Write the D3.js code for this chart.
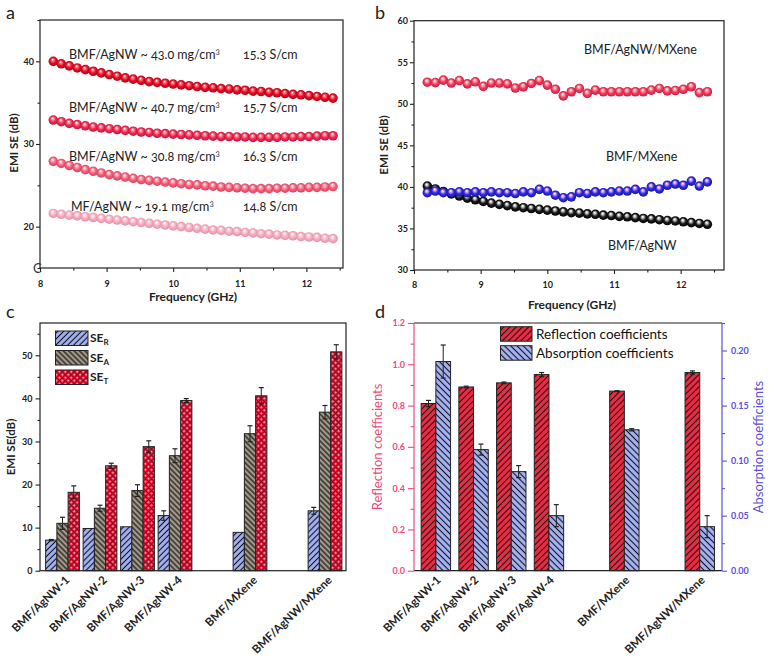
<!DOCTYPE html>
<html><head><meta charset="utf-8">
<script src="https://cdn.jsdelivr.net/npm/d3@7"></script>
<style>
body{margin:0;background:#fff}
svg{display:block}
text{font-family:Lato,"Open Sans","DejaVu Sans",sans-serif;}
.lbl{font-variant-numeric:oldstyle-nums;}
</style>
</head><body>
<svg id="chart" width="769" height="659"></svg>
<script>
// ---------------- DATA ----------------
const freq = [8.2, 8.32, 8.44, 8.56, 8.68, 8.8, 8.92, 9.04, 9.16, 9.28, 9.4, 9.52, 9.64, 9.76, 9.88, 10.0, 10.12, 10.24,
  10.36, 10.48, 10.6, 10.72, 10.84, 10.96, 11.08, 11.2, 11.32, 11.44, 11.56, 11.68, 11.8, 11.92, 12.04, 12.16, 12.28, 12.4];

// panel a
const aSE430 = [40.0, 39.7, 39.45, 39.2, 39.0, 38.8, 38.6, 38.4, 38.2, 38.0, 37.85, 37.7, 37.55, 37.45, 37.35, 37.25, 37.15, 37.05,
  36.95, 36.85, 36.8, 36.7, 36.65, 36.55, 36.5, 36.4, 36.35, 36.25, 36.2, 36.1, 36.0, 35.95, 35.85, 35.75, 35.65, 35.55];
const aSE407 = [32.9, 32.7, 32.5, 32.35, 32.2, 32.05, 31.95, 31.85, 31.75, 31.65, 31.55, 31.45, 31.4, 31.3, 31.25, 31.2, 31.15, 31.1,
  31.05, 31.0, 30.95, 30.9, 30.9, 30.85, 30.85, 30.8, 30.8, 30.8, 30.8, 30.85, 30.85, 30.9, 30.9, 30.95, 31.0, 31.0];
const aSE308 = [27.9, 27.65, 27.4, 27.15, 26.9, 26.7, 26.5, 26.3, 26.15, 26.0, 25.85, 25.7, 25.6, 25.5, 25.4, 25.3, 25.2, 25.1,
  25.05, 24.95, 24.9, 24.8, 24.75, 24.7, 24.65, 24.6, 24.6, 24.6, 24.65, 24.65, 24.7, 24.7, 24.75, 24.75, 24.8, 24.85];
const aSE191 = [21.6, 21.5, 21.4, 21.3, 21.2, 21.1, 21.0, 20.9, 20.8, 20.7, 20.6, 20.5, 20.4, 20.3, 20.2, 20.1, 20.0, 19.9,
  19.8, 19.7, 19.6, 19.55, 19.45, 19.4, 19.3, 19.25, 19.15, 19.1, 19.0, 18.95, 18.9, 18.8, 18.75, 18.7, 18.6, 18.55];
const aLabels = ["BMF/AgNW ~ 43.0 mg/cm", "BMF/AgNW ~ 40.7 mg/cm", "BMF/AgNW ~ 30.8 mg/cm", "MF/AgNW ~ 19.1 mg/cm"];
const aConduct = ["15.3 S/cm", "15.7 S/cm", "16.3 S/cm", "14.8 S/cm"];

// panel b
const bAgNWMXene = [52.6, 52.55, 52.85, 52.5, 52.8, 52.4, 52.65, 52.1, 52.5, 52.5, 52.4, 51.9, 52.05, 52.45, 52.8, 52.25, 51.75, 50.95,
  51.45, 51.85, 51.25, 51.65, 51.45, 51.45, 51.45, 51.45, 51.45, 51.45, 51.65, 51.85, 51.55, 51.6, 51.75, 52.05, 51.35, 51.45];
const bMXene = [39.3, 39.5, 39.3, 39.3, 39.4, 39.3, 39.4, 39.3, 39.4, 39.3, 39.3, 39.2, 39.4, 39.3, 39.7, 39.5, 39.0, 38.7,
  38.8, 39.3, 39.2, 39.4, 39.3, 39.4, 39.5, 39.5, 39.7, 39.4, 40.0, 39.75, 40.2, 40.35, 40.2, 40.7, 40.1, 40.6];
const bAgNW = [40.1, 39.75, 39.45, 39.15, 38.9, 38.65, 38.45, 38.25, 38.05, 37.9, 37.75, 37.6, 37.5, 37.4, 37.3, 37.2, 37.1, 37.0,
  36.9, 36.85, 36.75, 36.7, 36.6, 36.55, 36.45, 36.4, 36.3, 36.2, 36.15, 36.05, 35.95, 35.9, 35.8, 35.7, 35.6, 35.5];
const bLabels = ["BMF/AgNW/MXene", "BMF/MXene", "BMF/AgNW"];

// panels c, d
const categories = ["BMF/AgNW-1", "BMF/AgNW-2", "BMF/AgNW-3", "BMF/AgNW-4", "BMF/MXene", "BMF/AgNW/MXene"];
const slots = [1, 2, 3, 4, 6, 8];
const seR = [7.1, 9.8, 10.2, 12.8, 8.9, 13.9];
const seRErr = [0.15, 0, 0, 1.1, 0, 0.8];
const seA = [11.0, 14.5, 18.6, 26.7, 31.8, 36.8];
const seAErr = [1.4, 0.7, 1.35, 1.6, 1.85, 1.55];
const seT = [18.2, 24.35, 28.8, 39.5, 40.6, 50.8];
const seTErr = [1.5, 0.6, 1.35, 0.45, 1.9, 1.65];
const reflection = [0.81, 0.89, 0.91, 0.95, 0.87, 0.96];
const reflectionErr = [0.015, 0.004, 0.004, 0.01, 0.002, 0.008];
const absorption = [0.19, 0.11, 0.09, 0.05, 0.128, 0.04];
const absorptionErr = [0.015, 0.005, 0.0055, 0.01, 0.001, 0.01];

// ---------------- DRAW ----------------
const svg = d3.select('#chart');
const defs = svg.append('defs');
const INK = '#222';

function ballGrad(id, hl, base, dark) {
  const g = defs.append('radialGradient').attr('id', id)
    .attr('cx', '50%').attr('cy', '50%').attr('r', '55%').attr('fx', '42%').attr('fy', '30%');
  g.append('stop').attr('offset', '0%').attr('stop-color', '#ffffff');
  g.append('stop').attr('offset', '20%').attr('stop-color', hl);
  g.append('stop').attr('offset', '55%').attr('stop-color', base);
  g.append('stop').attr('offset', '100%').attr('stop-color', dark);
}
ballGrad('gA1', '#ff8090', '#e80a22', '#a00616');
ballGrad('gA2', '#ff9fb2', '#f02a50', '#b8123a');
ballGrad('gA3', '#ffbcc8', '#f2607a', '#d63c5c');
ballGrad('gA4', '#ffe0e8', '#f6abbd', '#e28ea4');
ballGrad('gBr', '#ffb4c4', '#f23a5c', '#c01a3a');
ballGrad('gBb', '#f0a8d8', '#2c2ce6', '#12129a');
ballGrad('gBk', '#cfcfcf', '#1a1a1a', '#000000');

function hatch(id, fill, angle, s, sw) {
  const p = defs.append('pattern').attr('id', id).attr('patternUnits', 'userSpaceOnUse')
    .attr('width', s).attr('height', s).attr('patternTransform', `rotate(${angle})`);
  p.append('rect').attr('width', s).attr('height', s).attr('fill', fill);
  p.append('line').attr('x1', s / 2).attr('y1', -1).attr('x2', s / 2).attr('y2', s + 1)
    .attr('stroke', '#111').attr('stroke-width', sw);
}
hatch('pR', '#a3b2f7', 45, 4.2, 1.1);
hatch('pA', '#a39a8a', -45, 3.8, 1.2);
hatch('pDR', '#f22a44', 45, 4.4, 1.1);
hatch('pDB', '#a6b3f5', -45, 4.4, 1.1);
(function () {
  const s = 4.2;
  const p = defs.append('pattern').attr('id', 'pT').attr('patternUnits', 'userSpaceOnUse')
    .attr('width', s).attr('height', s).attr('patternTransform', 'rotate(45)');
  p.append('rect').attr('width', s).attr('height', s).attr('fill', '#f01a3a');
  p.append('rect').attr('width', s).attr('height', 0.8).attr('fill', '#7a0a1c');
  p.append('rect').attr('width', 0.8).attr('height', s).attr('fill', '#7a0a1c');
  p.append('rect').attr('x', 1.7).attr('y', 1.7).attr('width', 1.4).attr('height', 1.4).attr('fill', '#ffb2c2');
})();

function styleAxis(g, color, fontSize) {
  g.select('.domain').remove();
  g.selectAll('.tick line').attr('stroke', color).attr('stroke-width', 1.1);
  g.selectAll('.tick text').attr('fill', color).attr('font-size', fontSize)
    .attr('font-weight', 'bold').attr('font-family', 'Lato, sans-serif');
}
function yAxis(g, scale, x, major, minor, fmt, side, color, majLen, minLen, pad) {
  const f = side === 'left' ? d3.axisLeft : d3.axisRight;
  const a = g.append('g').attr('transform', `translate(${x},0)`)
    .call(f(scale).tickValues(major).tickSize(majLen).tickPadding(pad).tickFormat(fmt));
  styleAxis(a, color, 9);
  const m = g.append('g').attr('transform', `translate(${x},0)`)
    .call(f(scale).tickValues(minor).tickSize(minLen).tickFormat(''));
  styleAxis(m, color, 9);
}
function xAxis(g, scale, y, major, minor, fmt, pad) {
  const a = g.append('g').attr('transform', `translate(0,${y})`)
    .call(d3.axisBottom(scale).tickValues(major).tickSize(4).tickPadding(pad).tickFormat(fmt));
  styleAxis(a, INK, 9);
  const m = g.append('g').attr('transform', `translate(0,${y})`)
    .call(d3.axisBottom(scale).tickValues(minor).tickSize(2.5).tickFormat(''));
  styleAxis(m, INK, 9);
}
function frame(x0, y0, x1, y1) {
  svg.append('rect').attr('x', x0).attr('y', y0).attr('width', x1 - x0).attr('height', y1 - y0)
    .attr('fill', 'none').attr('stroke', INK).attr('stroke-width', 1.2);
}
function letter(t, x, y) {
  svg.append('text').attr('x', x).attr('y', y).attr('font-size', 18).attr('fill', '#222').text(t);
}
function balls(g, xs, ys, vals, grad) {
  g.append('g').selectAll('circle').data(vals).join('circle')
    .attr('cx', (d, i) => xs(freq[i])).attr('cy', d => ys(d)).attr('r', 4.8)
    .attr('fill', `url(#${grad})`);
}

// ---------- Panel a ----------
{
  const x = d3.scaleLinear([8, 12.55], [40, 343]);
  const y = d3.scaleLinear([15, 45], [268, 20]);
  const g = svg.append('g');
  yAxis(g, y, 40, [20, 30, 40], [15, 25, 35, 45], d3.format('d'), 'left', INK, 4, 2.5, 2);
  xAxis(g, x, 268, [8, 9, 10, 11, 12], [8.5, 9.5, 10.5, 11.5, 12.5], d3.format('d'), 9);
  balls(g, x, y, aSE191, 'gA4');
  balls(g, x, y, aSE308, 'gA3');
  balls(g, x, y, aSE407, 'gA2');
  balls(g, x, y, aSE430, 'gA1');
  frame(40, 20, 343, 268);
  const ly = [59, 112, 161, 211];
  const lx = [69, 69, 69, 71];
  aLabels.forEach((t, i) => {
    const tx = svg.append('text').attr('class', 'lbl').attr('x', lx[i]).attr('y', ly[i])
      .attr('font-size', 12.5).attr('fill', '#222');
    tx.append('tspan').text(t);
    tx.append('tspan').attr('dy', -5).attr('font-size', 8).text('3');
    svg.append('text').attr('class', 'lbl').attr('x', 243).attr('y', ly[i])
      .attr('font-size', 12.5).attr('fill', '#222').text(aConduct[i]);
  });
  svg.append('text').attr('transform', 'translate(18,143) rotate(-90)').attr('text-anchor', 'middle')
    .attr('font-size', 11.5).attr('font-weight', 'bold').attr('fill', INK).text('EMI SE (dB)');
  svg.append('text').attr('x', 193).attr('y', 301).attr('text-anchor', 'middle')
    .attr('font-size', 12).attr('font-weight', 'bold').attr('fill', INK).text('Frequency (GHz)');
  svg.append('text').attr('x', 33).attr('y', 273).attr('font-size', 13).attr('fill', '#333').text('C');
  letter('a', 6, 19);
}

// ---------- Panel b ----------
{
  const x = d3.scaleLinear([8, 12.65], [414, 724]);
  const y = d3.scaleLinear([30, 60], [270, 20.7]);
  const g = svg.append('g');
  yAxis(g, y, 414, [30, 35, 40, 45, 50, 55, 60], [32.5, 37.5, 42.5, 47.5, 52.5, 57.5], d3.format('d'), 'left', INK, 4, 2.5, 2);
  xAxis(g, x, 270, [8, 9, 10, 11, 12], [8.5, 9.5, 10.5, 11.5, 12.5], d3.format('d'), 8);
  balls(g, x, y, bAgNW, 'gBk');
  balls(g, x, y, bMXene, 'gBb');
  balls(g, x, y, bAgNWMXene, 'gBr');
  frame(414, 20.7, 724, 270);
  const pos = [[584, 54], [606, 161], [608, 250]];
  bLabels.forEach((t, i) => {
    svg.append('text').attr('x', pos[i][0]).attr('y', pos[i][1]).attr('font-size', 12.5)
      .attr('fill', '#222').text(t);
  });
  svg.append('text').attr('transform', 'translate(388,145) rotate(-90)').attr('text-anchor', 'middle')
    .attr('font-size', 11.5).attr('font-weight', 'bold').attr('fill', INK).text('EMI SE (dB)');
  svg.append('text').attr('x', 572).attr('y', 309).attr('text-anchor', 'middle')
    .attr('font-size', 12).attr('font-weight', 'bold').attr('fill', INK).text('Frequency (GHz)');
  letter('b', 375, 19);
}

function errBar(g, cx, yTop, yBot, color) {
  g.append('line').attr('x1', cx).attr('x2', cx).attr('y1', yTop).attr('y2', yBot).attr('stroke', color).attr('stroke-width', 1);
  g.append('line').attr('x1', cx - 2.5).attr('x2', cx + 2.5).attr('y1', yTop).attr('y2', yTop).attr('stroke', color).attr('stroke-width', 1.2);
  g.append('line').attr('x1', cx - 2.5).attr('x2', cx + 2.5).attr('y1', yBot).attr('y2', yBot).attr('stroke', color).attr('stroke-width', 1.2);
}

// ---------- Panel c ----------
{
  const x = d3.scaleLinear([0.4, 8.56], [40, 346]);
  const y = d3.scaleLinear([0, 57.5], [570.7, 323]);
  const g = svg.append('g');
  yAxis(g, y, 40, [0, 10, 20, 30, 40, 50], [5, 15, 25, 35, 45, 55], d3.format('d'), 'left', INK, 4.5, 2.5, 3);
  const bw = 0.3;
  const series = [[seR, seRErr, 'pR', -1.5], [seA, seAErr, 'pA', -0.5], [seT, seTErr, 'pT', 0.5]];
  series.forEach(([vals, errs, pat, off]) => {
    g.append('g').selectAll('rect').data(vals).join('rect')
      .attr('x', (d, i) => x(slots[i] + off * bw))
      .attr('y', d => y(d))
      .attr('width', x(bw) - x(0))
      .attr('height', d => y(0) - y(d))
      .attr('fill', `url(#${pat})`).attr('stroke', INK).attr('stroke-width', 1);
    vals.forEach((v, i) => {
      if (errs[i] > 0) errBar(g, x(slots[i] + (off + 0.5) * bw), y(v + errs[i]), y(v - errs[i]), INK);
    });
  });
  frame(40, 323, 346, 570.7);
  categories.forEach((c, i) => {
    svg.append('text').attr('transform', `translate(${x(slots[i]) + 5},578) rotate(-44)`)
      .attr('text-anchor', 'end').attr('dy', '0.35em').attr('font-size', 11.5).attr('font-weight', 'bold')
      .attr('fill', INK).text(c);
  });
  // legend
  const leg = [['pR', 'R'], ['pA', 'A'], ['pT', 'T']];
  const ly0 = [331, 350.5, 370];
  leg.forEach(([pat, sub], i) => {
    svg.append('rect').attr('x', 55.5).attr('y', ly0[i]).attr('width', 32.5).attr('height', 14.5)
      .attr('fill', `url(#${pat})`).attr('stroke', INK).attr('stroke-width', 1);
    const t = svg.append('text').attr('x', 90).attr('y', ly0[i] + 11).attr('font-size', 12)
      .attr('font-weight', 'bold').attr('fill', INK);
    t.append('tspan').text('SE');
    t.append('tspan').attr('dy', 3).attr('font-size', 8).text(sub);
  });
  svg.append('text').attr('transform', 'translate(15,447) rotate(-90)').attr('text-anchor', 'middle')
    .attr('font-size', 11.5).attr('font-weight', 'bold').attr('fill', INK).text('EMI SE(dB)');
  letter('c', 6, 318);
}

// ---------- Panel d ----------
{
  const PINK = '#f04a7c', BLUE = '#5a4ee0';
  const x = d3.scaleLinear([0.42, 8.59], [414, 722]);
  const yL = d3.scaleLinear([0, 1.2], [570.7, 323]);
  const yR = d3.scaleLinear([0, 0.225], [570.7, 323]);
  const g = svg.append('g');
  yAxis(g, yL, 414, [0, 0.2, 0.4, 0.6, 0.8, 1.0, 1.2], [0.1, 0.3, 0.5, 0.7, 0.9, 1.1], d3.format('.1f'), 'left', PINK, 6, 3.5, 3);
  yAxis(g, yR, 722, [0, 0.05, 0.1, 0.15, 0.2], [0.025, 0.075, 0.125, 0.175, 0.225], d3.format('.2f'), 'right', BLUE, 5, 3, 4);
  const bw = 0.39;
  g.append('g').selectAll('rect').data(reflection).join('rect')
    .attr('x', (d, i) => x(slots[i] - bw)).attr('y', d => yL(d))
    .attr('width', x(bw) - x(0)).attr('height', d => yL(0) - yL(d))
    .attr('fill', 'url(#pDR)').attr('stroke', INK).attr('stroke-width', 1);
  g.append('g').selectAll('rect').data(absorption).join('rect')
    .attr('x', (d, i) => x(slots[i])).attr('y', d => yR(d))
    .attr('width', x(bw) - x(0)).attr('height', d => yR(0) - yR(d))
    .attr('fill', 'url(#pDB)').attr('stroke', INK).attr('stroke-width', 1);
  reflection.forEach((v, i) => errBar(g, x(slots[i] - bw / 2), yL(v + reflectionErr[i]), yL(v - reflectionErr[i]), INK));
  absorption.forEach((v, i) => errBar(g, x(slots[i] + bw / 2), yR(v + absorptionErr[i]), yR(v - absorptionErr[i]), INK));
  // spines
  svg.append('line').attr('x1', 414).attr('x2', 722).attr('y1', 323).attr('y2', 323).attr('stroke', INK).attr('stroke-width', 1.2);
  svg.append('line').attr('x1', 414).attr('x2', 722).attr('y1', 570.7).attr('y2', 570.7).attr('stroke', INK).attr('stroke-width', 1.2);
  svg.append('line').attr('x1', 414).attr('x2', 414).attr('y1', 323).attr('y2', 570.7).attr('stroke', PINK).attr('stroke-width', 1.2);
  svg.append('line').attr('x1', 722).attr('x2', 722).attr('y1', 323).attr('y2', 570.7).attr('stroke', BLUE).attr('stroke-width', 1.2);
  categories.forEach((c, i) => {
    svg.append('text').attr('transform', `translate(${x(slots[i]) + 3},578) rotate(-44)`)
      .attr('text-anchor', 'end').attr('dy', '0.35em').attr('font-size', 11.5).attr('font-weight', 'bold')
      .attr('fill', INK).text(c);
  });
  const leg = [['pDR', 'Reflection coefficients', 326.7], ['pDB', 'Absorption coefficients', 345.7]];
  leg.forEach(([pat, t, yy]) => {
    svg.append('rect').attr('x', 500.5).attr('y', yy).attr('width', 31.5).attr('height', 14.5)
      .attr('fill', `url(#${pat})`).attr('stroke', INK).attr('stroke-width', 1);
    svg.append('text').attr('x', 536).attr('y', yy + 12).attr('font-size', 13.5).attr('fill', '#111').text(t);
  });
  svg.append('text').attr('transform', 'translate(382,447) rotate(-90)').attr('text-anchor', 'middle')
    .attr('font-size', 13).attr('fill', PINK).text('Reflection coefficients');
  svg.append('text').attr('transform', 'translate(763,447) rotate(-90)').attr('text-anchor', 'middle')
    .attr('font-size', 13).attr('fill', BLUE).text('Absorption coefficients');
  letter('d', 375, 318);
}
</script>
</body></html>
